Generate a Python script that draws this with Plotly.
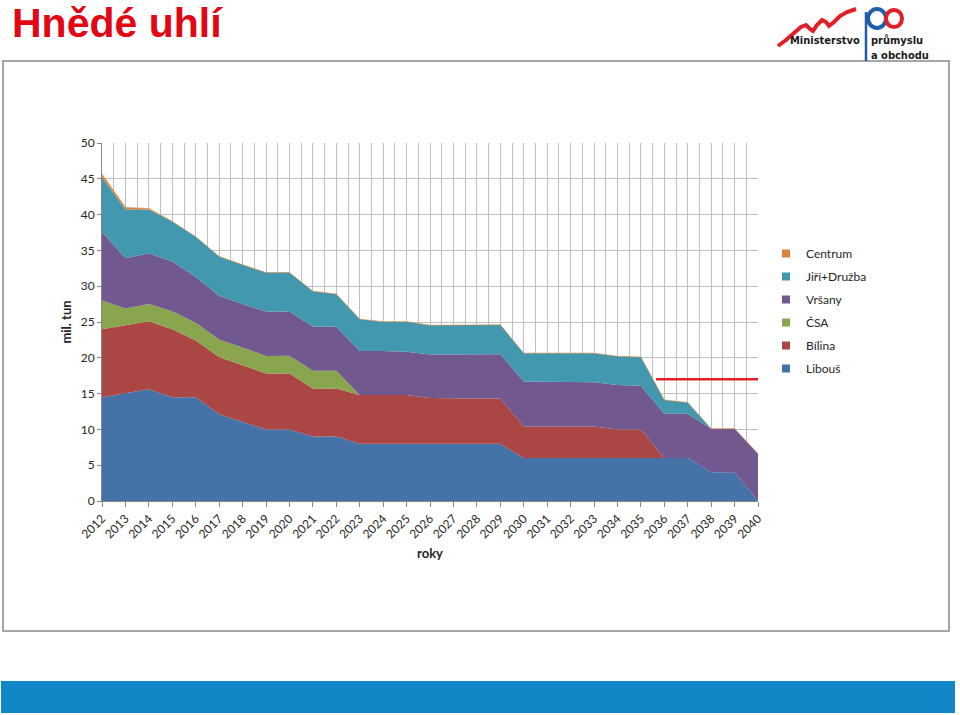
import plotly.graph_objects as go

# ---------------- data ----------------
years = list(range(2012, 2041))
year_labels = [str(y) for y in years]

libous = [14.5, 15.0, 15.6, 14.5, 14.5, 12.1, 11.0, 10.0,
          10.0, 9.0, 9.0,
          8.0, 8.0, 8.0, 8.0, 8.0, 8.0, 8.0,
          6.0, 6.0, 6.0, 6.0, 6.0, 6.0, 6.0, 6.0,
          4.0, 4.0, 0.0]
bilina = [9.5, 9.5, 9.5, 9.5, 7.9, 8.0, 8.0, 7.8,
          7.8, 6.7, 6.7,
          6.8, 6.8, 6.8, 6.4, 6.3, 6.3, 6.3,
          4.4, 4.4, 4.4, 4.4, 4.0, 4.0, 0.0, 0.0,
          0.0, 0.0, 0.0]
csa = [4.0, 2.4, 2.4, 2.5, 2.5, 2.45, 2.45, 2.45,
       2.5, 2.5, 2.5,
       0.0, 0.0, 0.0, 0.0, 0.0, 0.0, 0.0,
       0.0, 0.0, 0.0, 0.0, 0.0, 0.0, 0.0, 0.0,
       0.0, 0.0, 0.0]
vrsany = [9.6, 7.0, 7.1, 6.95, 6.4, 6.1, 6.05, 6.2,
          6.15, 6.15, 6.15,
          6.15, 6.15, 6.05, 6.05, 6.2, 6.2, 6.2,
          6.3, 6.3, 6.3, 6.2, 6.2, 6.1, 6.2, 6.2,
          6.1, 6.1, 6.6]
jiri_druzba = [7.6, 6.8, 6.1, 5.6, 5.6, 5.5, 5.5, 5.45,
               5.45, 4.95, 4.55,
               4.45, 4.1, 4.2, 4.1, 4.1, 4.1, 4.1,
               3.95, 3.95, 3.95, 4.05, 4.0, 4.0, 1.9, 1.55,
               0.0, 0.0, 0.0]
centrum = [0.45, 0.3, 0.15, 0.0, 0.0, 0.0, 0.0, 0.0,
           0.0, 0.0, 0.0,
           0.0, 0.0, 0.0, 0.0, 0.0, 0.0, 0.0,
           0.0, 0.0, 0.0, 0.0, 0.0, 0.0, 0.0, 0.0,
           0.0, 0.0, 0.0]

series_names = ["Libouš", "Bílina", "ČSA", "Vršany", "Jiří+Družba", "Centrum"]
series_values = [libous, bilina, csa, vrsany, jiri_druzba, centrum]
series_colors = ["#4572A7", "#AA4643", "#89A54E", "#71588F", "#4198AF", "#DB843D"]

# red reference line drawn on the slide (years, mil. tun)
ref_line_x = [2035.65, 2040.05]
ref_line_y = 17.0

# ---------------- layout helpers ----------------
W, H = 960, 715
ML, MR, MT, MB = 102, 202, 143, 214
PW, PH = W - ML - MR, H - MT - MB


def px(x):
    return (x - ML) / PW


def py(y):
    return (H - MB - y) / PH


FONT = "Lato, 'Open Sans', sans-serif"

fig = go.Figure()

n = len(series_names)
for i, (name, vals, color) in enumerate(zip(series_names, series_values, series_colors)):
    fig.add_trace(go.Scatter(
        x=years, y=vals, name=name, stackgroup="one", mode="lines",
        line=dict(width=0.6 if name == "Centrum" else 0, color=color),
        fillcolor=color, showlegend=False,
    ))
    fig.add_trace(go.Scatter(
        x=[None], y=[None], name=name, mode="markers", legendgroup=name,
        legendrank=n - i,
        marker=dict(symbol="square", size=8, color=color), showlegend=True,
    ))

shapes = [
    # outer chart frame
    dict(type="rect", xref="paper", yref="paper", x0=px(3), x1=px(949), y0=py(631), y1=py(61),
         line=dict(color="#A6A6A6", width=2), fillcolor="rgba(0,0,0,0)", layer="below"),
    # bottom blue band
    dict(type="rect", xref="paper", yref="paper", x0=px(1), x1=px(955), y0=py(713), y1=py(681),
         line=dict(width=0), fillcolor="#1287C7", layer="below"),
    # red reference line
    dict(type="line", xref="x", yref="y", x0=ref_line_x[0], x1=ref_line_x[1], y0=ref_line_y, y1=ref_line_y,
         line=dict(color="#E31E24", width=2.5), layer="above"),
]

# logo approximation
swoosh = [(778, 46), (786, 40), (794, 33), (801, 27), (806, 25), (810, 29), (813, 31),
          (817, 25), (822, 20), (826, 22), (829, 26), (834, 22), (840, 16), (847, 12), (856, 9)]
path = "M " + " L ".join(f"{px(x):.5f},{py(y):.5f}" for x, y in swoosh)
shapes.append(dict(type="path", xref="paper", yref="paper", path=path,
                   line=dict(color="#E31E24", width=4)))
shapes.append(dict(type="line", xref="paper", yref="paper", x0=px(866), x1=px(866), y0=py(61), y1=py(12),
                   line=dict(color="#1F5FAA", width=2.5)))
shapes.append(dict(type="circle", xref="paper", yref="paper", x0=px(868), x1=px(886), y0=py(28), y1=py(9),
                   line=dict(color="#1F5FAA", width=4)))
shapes.append(dict(type="circle", xref="paper", yref="paper", x0=px(886), x1=px(902), y0=py(27), y1=py(10),
                   line=dict(color="#E31E24", width=4)))

annotations = [
    dict(text="<b>Hnědé uhlí</b>", xref="paper", yref="paper", x=px(10), y=py(23),
         xanchor="left", yanchor="middle", showarrow=False,
         font=dict(family="'Liberation Sans', Arial, sans-serif", size=41, color="#E30613")),
    dict(text="<b>Ministerstvo</b>", xref="paper", yref="paper", x=px(862), y=py(41),
         xanchor="right", yanchor="middle", showarrow=False,
         font=dict(family="'DejaVu Sans Condensed', 'DejaVu Sans', sans-serif", size=11, color="#1A1A1A")),
    dict(text="<b>průmyslu</b>", xref="paper", yref="paper", x=px(869), y=py(41),
         xanchor="left", yanchor="middle", showarrow=False,
         font=dict(family="'DejaVu Sans Condensed', 'DejaVu Sans', sans-serif", size=11, color="#1A1A1A")),
    dict(text="<b>a obchodu</b>", xref="paper", yref="paper", x=px(869), y=py(55),
         xanchor="left", yanchor="middle", showarrow=False,
         font=dict(family="'DejaVu Sans Condensed', 'DejaVu Sans', sans-serif", size=11, color="#1A1A1A")),
]

fig.update_layout(
    width=W, height=H,
    margin=dict(l=ML, r=MR, t=MT, b=MB, pad=0),
    paper_bgcolor="white", plot_bgcolor="white",
    font=dict(family=FONT, size=12, color="#262626"),
    shapes=shapes, annotations=annotations,
    showlegend=True,
    legend=dict(x=px(766), y=py(239), xanchor="left", yanchor="top",
                traceorder="grouped", tracegroupgap=4,
                font=dict(family=FONT, size=12, color="#262626"),
                bgcolor="rgba(0,0,0,0)", itemwidth=30),
    xaxis=dict(range=[2012, 2040], tickmode="array", tickvals=years, ticktext=year_labels,
               tickangle=-45, showgrid=True, gridcolor="#BFBFBF", gridwidth=1,
               minor=dict(tickmode="linear", tick0=2012.5, dtick=1, showgrid=True,
                          gridcolor="#BFBFBF", gridwidth=1, ticks=""),
               showline=True, linecolor="#868686", linewidth=1,
               ticks="outside", ticklen=5, tickcolor="#868686",
               tickfont=dict(family=FONT, size=12, color="#262626"),
               title=dict(text="<b>roky</b>", font=dict(family=FONT, size=13, color="#262626"), standoff=8),
               zeroline=False, fixedrange=True),
    yaxis=dict(range=[0, 50], tick0=0, dtick=5, showgrid=True, gridcolor="#BFBFBF", gridwidth=1,
               showline=True, linecolor="#868686", linewidth=1,
               ticks="outside", ticklen=4, tickcolor="#868686",
               tickfont=dict(family=FONT, size=12, color="#262626"),
               title=dict(text="<b>mil. tun</b>", font=dict(family=FONT, size=13, color="#262626"), standoff=6),
               zeroline=False, fixedrange=True),
)

fig.write_html("out.html")
